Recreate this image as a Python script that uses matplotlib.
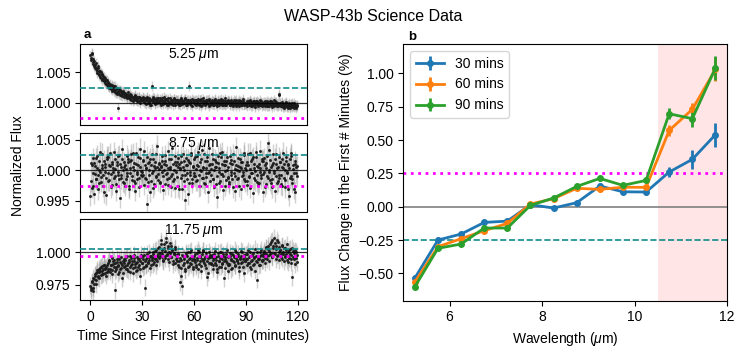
import numpy as np
import matplotlib
matplotlib.use("Agg")
import matplotlib.pyplot as plt

plt.rcParams['font.family'] = ['Liberation Sans', 'DejaVu Sans']
plt.rcParams['mathtext.fontset'] = 'custom'
plt.rcParams['mathtext.it'] = 'Liberation Sans:italic'
plt.rcParams['mathtext.rm'] = 'Liberation Sans'
plt.rcParams['font.size'] = 10

# light curves, (flux - 1) in units of 1e-4
# "even" frames at t = 0, 0.5, 1.0 ... min, "odd" frames 0.25 min later
flux_525_even = [
    78, 71, 82, 64, 69, 58, 66, 55, 49, 57, 46, 52, 41, 47, 38, 44, 35, 40, 31, 37,
    28, 34, 25, 31, 22, 29, 26, 19, 27, 21, 16, 24, -8, 22, 13, 20, 17, 11, 19, 14,
    16, 10, 13, 8, 17, 11, 6, 12, 9, 3, 10, 7, 13, 4, 8, 2, 9, 5, -1, 7,
    5, 9, 1, 7, -2, 4, 8, 0, 6, 3, -3, 28, 10, 2, 6, -1, 4, 8, 1, 3,
    2, 7, -3, 5, 1, 9, -1, 4, 6, -4, 3, 0, 8, 2, -2, 5, 1, 7, -3, 4,
    3, -2, 5, 1, -4, 6, 2, -1, 4, 0, 7, -3, 2, 5, 28, -2, 3, 1, -5, 4,
    1, 5, -3, 3, 0, 6, -2, 4, -5, 2, 7, -1, 3, -4, 1, 5, -2, 2, 6, -3,
    0, 4, -3, 2, 6, -2, 1, -5, 3, -1, 5, 0, -4, 2, 4, -2, 7, -3, 1, 3,
    -1, 3, -4, 2, 0, -6, 4, -2, 1, 5, -3, 0, -5, 3, -1, 2, -4, 6, -2, 0,
    -2, 2, -5, 1, -1, 4, -6, 0, -3, 3, -1, -7, 2, -2, 1, -4, 4, -3, 0, -5,
    -3, 1, -6, 0, -2, 3, -5, -1, 2, -4, -7, 1, -2, 4, -3, 0, -6, -1, 15, -4,
    -2, -6, 1, -4, -8, -1, -5, 0, -7, -3, -4, -9, -2, -6, 0, -5, -8, -3, -6, -4,
]
flux_525_odd = [
    74, 80, 67, 72, 60, 63, 57, 52, 60, 48, 53, 43, 50, 45, 39, 42, 36, 33, 38, 30,
    33, 26, 30, 24, 27, 20, 23, 28, 18, 22, 15, 20, 17, 14, 21, 12, 16, 18, 10, 15,
    12, 15, 9, 13, 7, 11, 14, 5, 10, 8, 4, 11, 6, 9, 2, 7, 10, 3, 6, 4,
    8, 2, 6, -1, 5, 9, 3, 0, 7, -3, 4, 6, 1, 8, -2, 3, 5, 0, 7, 2,
    -1, 5, 3, 8, -2, 2, 6, 0, 4, -3, 7, 1, -1, 5, 3, -4, 6, 2, 0, 4,
    5, 0, -3, 4, 2, 7, -2, 3, -1, 6, 1, -4, 4, 0, 2, 5, -3, 6, 1, -1,
    3, -2, 5, -1, 2, -4, 4, 0, 6, -3, 1, 3, -2, 5, 0, -1, 4, -5, 2, 1,
    -2, 3, 1, -4, 5, 0, -1, 4, -3, 2, -2, 6, 1, -3, 0, 3, -4, 2, -1, 5,
    2, -3, 0, 4, -4, 1, -2, 3, -5, 0, 2, -2, 4, -1, -3, 1, 3, -4, 0, -2,
    -3, 0, 2, -4, 3, -2, 1, -5, 2, -1, -4, 1, -2, 3, -6, 0, -3, 2, -1, -4,
    -1, -4, 2, -3, -6, 1, -2, -5, 0, 3, -3, -1, -6, 2, -4, 1, -2, -5, 12, 0,
    -5, -1, -3, -7, -2, -4, 1, -6, -3, -8, -1, -5, -2, -7, -4, 0, -6, -3, -9, -5,
]
flux_875_even = [
    -42, -18, 8, -25, 12, -6, 20, -14, 3, -31, 15, -2, -19, 9, 27, -8, -36, 5, -12, 18,
    -4, 22, -16, 7, -28, 11, -3, 30, -10, 2, -22, 14, -7, 25, -45, 6, -13, 19, 0, -20,
    9, -15, 24, -5, 13, -26, 4, 17, -9, 28, -18, 1, -33, 10, -2, 21, -12, 6, 35, -7,
    -3, 16, -24, 8, -14, 3, -55, 12, -8, 19, -17, 26, -1, -29, 7, 14, -11, 40, -6, 2,
    11, -19, 5, 23, -9, 0, 16, -23, 8, -4, 31, -13, 2, -27, 18, -6, 10, -15, 24, -2,
    -11, 6, 20, -30, 3, 14, -8, 27, -18, 1, -48, 9, -4, 17, -21, 12, -7, 29, -14, 5,
    18, -10, 2, 24, -16, 7, -26, 13, -1, 33, -12, 4, -20, 15, -5, 22, -36, 9, -3, 11,
    -8, 26, -14, 0, 17, -22, 6, -44, 12, 3, -17, 21, -6, 30, -10, 8, -25, 15, 1, -13,
    5, -19, 23, -3, 10, -28, 16, 2, -9, 38, -15, 7, -1, 19, -31, 4, 13, -7, 25, -18,
    0, 14, -24, 9, -11, 28, -5, 18, -37, 3, 11, -16, 22, -8, 6, -20, 32, -2, -13, 15,
    -6, 20, -27, 4, 12, -10, 45, -3, 17, -21, 8, -14, 26, -1, -34, 10, 3, -18, 21, -7,
    13, -23, 5, 29, -12, 1, -28, 16, -5, 9, -42, 19, -9, 24, -15, 2, -30, 11, -4, 7,
]
flux_875_odd = [
    12, -29, -5, 20, -38, 7, -15, 24, -8, 1, -20, 30, -11, 4, -26, 16, -3, 10, -40, 22,
    -17, 9, 28, -6, 14, -24, 3, -13, 19, -33, 8, -2, 23, -15, 11, -7, 34, -19, 5, 13,
    -25, 2, -9, 18, -30, 15, -4, 26, -16, 6, 12, -21, 29, -6, -14, 8, -27, 20, -1, -10,
    17, -8, 31, -12, 4, 22, -19, 0, 14, -35, 9, -5, 19, -23, 3, 27, -9, 6, -16, 12,
    -20, 7, -2, 15, -32, 10, 25, -6, -14, 4, -24, 18, 6, -10, 37, -17, 1, 13, -29, 8,
    14, -26, 10, 2, -12, 23, -31, 5, 16, -7, 20, -15, 8, -39, 13, -3, 25, -20, 7, -9,
    -5, 21, -17, 9, 30, -8, 0, -25, 18, -13, 6, 27, -22, 3, -11, 15, -4, 36, -18, 2,
    10, -14, 19, -27, 5, 13, -9, 24, -3, -20, 28, -6, 11, -32, 16, -1, 8, -16, 22, -11,
    -22, 12, -7, 17, -15, 26, -4, -33, 9, 1, -12, 20, -26, 6, 14, -9, -2, 29, -14, 3,
    8, -17, 27, -10, 2, -29, 15, -5, 21, -13, -1, 30, -19, 7, -24, 11, 4, -8, 18, -35,
    16, -3, 9, -22, 24, -13, 1, 33, -16, 6, -28, 12, -4, 19, -9, 27, -21, 5, -12, 14,
    -7, 18, -25, 3, 11, -16, 22, -2, -31, 10, 4, -13, 28, -20, 8, -5, 15, -36, 6, -10,
]
flux_1175_even = [
    -255, -290, -230, -270, -205, -180, -245, -160, -135, -190, -150, -120, -175, -105, -140, -165, -95, -130, -115, -150,
    -80, -140, -60, -125, -95, -170, -70, -115, -290, -85, -130, -50, -105, -150, -75, -120, -40, -100, -160, -85,
    -60, -125, -95, -30, -140, -75, -110, -45, -90, -160, -65, -20, -115, -80, -135, -50, -95, -70, -180, -40,
    -85, -30, -110, -270, -55, -95, -10, -75, -40, -120, -25, -60, 5, -90, -35, -50, 20, -70, -15, -45,
    40, -30, 90, -10, -60, 60, 10, -45, 110, -20, 30, -75, -5, 50, -35, 15, -90, -15, 25, -55,
    -40, -95, -10, -70, -230, -120, -260, -30, -85, -50, -130, -20, -65, 0, -105, -45, -80, 15, -60, -110,
    -25, -75, -110, -5, -60, 20, -90, -40, -140, -15, -70, 10, -55, -100, -30, -190, -45, 5, -85, -35,
    -80, -20, -125, -45, 10, -95, -60, -150, -30, -70, 0, -110, -50, -85, -15, -200, -40, -65, 15, -100,
    -35, -90, -5, -60, -120, -20, -75, 20, -105, -45, -65, -10, -140, -55, -25, -85, 5, -115, -40, -70,
    -15, -100, -50, 15, -80, -30, -125, -60, -5, -90, -40, 25, -70, -210, -35, -55, 0, -95, -20, -65,
    -30, 10, -80, -15, 40, -55, 25, -20, 60, -5, 90, -40, 30, 110, -10, 50, -25, 75, 5, -60,
    20, -35, 55, -10, -70, 35, -25, 15, -60, 0, -45, 25, -80, -20, -190, 10, -55, -30, 5, -75,
]
flux_1175_odd = [
    -275, -220, -300, -195, -240, -170, -210, -150, -185, -125, -200, -140, -110, -170, -130, -95, -155, -120, -180, -100,
    -125, -70, -150, -100, -45, -135, -90, -60, -145, -110, -75, -165, -95, -55, -130, -85, -200, -70, -115, -50,
    -105, -40, -130, -85, -60, -150, -25, -100, -70, -120, -45, -90, -140, -35, -75, -110, -55, -125, -20, -85,
    -50, -120, -20, -65, -105, -40, -85, 0, -60, -30, -95, -45, -15, -75, 10, -55, -100, -25, 35, -40,
    -5, 65, -40, 15, -70, 30, -25, 80, -10, 45, -50, 0, 70, -35, 20, -65, -5, 40, -80, -20,
    -70, -15, -110, -45, -180, -60, -20, -95, -40, -140, -5, -75, -30, -115, -55, 5, -90, -35, -125, -50,
    -60, -10, -95, -45, -130, 0, -70, -25, -105, -50, 15, -80, -35, -120, -5, -65, -155, -40, -20, -90,
    -35, -100, -60, -15, -85, -40, -130, -5, -70, -110, -45, 5, -90, -25, -65, -120, -50, -10, -80, -140,
    -95, -25, -55, -130, -10, -70, -40, -100, 0, -60, -85, -30, -115, -45, 10, -75, -50, -160, -20, -65,
    -55, -10, -85, -35, -110, 0, -65, -20, -95, -45, -140, -25, 5, -75, -50, -100, -30, 20, -60, -15,
    -60, -5, -45, 30, -25, 50, -70, 10, -15, 80, -35, 45, -5, 70, -55, 25, 95, -20, 40, 15,
    -15, 45, -50, 5, 30, -40, -10, 60, -30, -75, 20, -15, -55, 35, -35, -5, -90, 15, -45, -20,
]
err_lc = [8, 17, 65]  # per panel, same units
lc_labels = [r'5.25 $\mu$m', r'8.75 $\mu$m', r'11.75 $\mu$m']

# panel b
wavelength = [5.25, 5.75, 6.25, 6.75, 7.25, 7.75, 8.25, 8.75, 9.25, 9.75, 10.25, 10.75, 11.25, 11.75]
change_30 = [-0.535, -0.25, -0.205, -0.118, -0.108, 0.015, -0.01, 0.03, 0.155, 0.112, 0.11, 0.26, 0.355, 0.54]
change_60 = [-0.565, -0.30, -0.24, -0.18, -0.125, 0.02, 0.06, 0.138, 0.13, 0.146, 0.145, 0.572, 0.73, 1.03]
change_90 = [-0.60, -0.312, -0.28, -0.16, -0.16, 0.01, 0.065, 0.152, 0.212, 0.16, 0.197, 0.697, 0.66, 1.04]
err_30 = [0.02, 0.015, 0.015, 0.015, 0.015, 0.015, 0.015, 0.015, 0.02, 0.02, 0.02, 0.04, 0.07, 0.09]
err_60 = [0.02, 0.015, 0.015, 0.015, 0.015, 0.015, 0.015, 0.015, 0.02, 0.02, 0.02, 0.04, 0.05, 0.09]
err_90 = [0.02, 0.015, 0.015, 0.015, 0.015, 0.015, 0.015, 0.015, 0.02, 0.02, 0.02, 0.04, 0.06, 0.09]

fig = plt.figure(figsize=(7.47, 3.61), dpi=100)

left_pos = [[0.1071, 0.6537, 0.3039, 0.2244],
            [0.1071, 0.4119, 0.3039, 0.2205],
            [0.1071, 0.1690, 0.3039, 0.2235]]
ylims = [(0.99632, 1.00968), (0.99314, 1.00614), (0.9635, 1.0252)]
yticks = [[1.000, 1.005], [0.995, 1.000, 1.005], [0.975, 1.000]]

t_even = np.arange(len(flux_525_even)) * 0.5
t_odd = t_even + 0.25
curves = [(flux_525_even, flux_525_odd), (flux_875_even, flux_875_odd), (flux_1175_even, flux_1175_odd)]

for i, (ev, od) in enumerate(curves):
    ax = fig.add_axes(left_pos[i])
    for tt, series in [(t_even, ev), (t_odd, od)]:
        f = 1 + np.array(series) * 1e-4
        ax.errorbar(tt, f, yerr=err_lc[i] * 1e-4, fmt='.', color=(0.1, 0.1, 0.1, 0.85), ms=2.4,
                    ecolor=(0.55, 0.55, 0.55, 0.4), elinewidth=1, zorder=2)
    ax.axhline(1.0, color='k', lw=0.9, alpha=0.8, zorder=3)
    ax.axhline(1.0025, color='#108a8a', ls='--', lw=1.2, zorder=4)
    ax.axhline(0.9975, color='magenta', ls=':', lw=2, zorder=4)
    ax.set_xlim(-6, 125.5)
    ax.set_ylim(*ylims[i])
    ax.set_yticks(yticks[i])
    ax.set_yticklabels([f'{v:.3f}' for v in yticks[i]])
    ax.text(0.5, 0.97, lc_labels[i], transform=ax.transAxes, ha='center', va='top', fontsize=10)
    if i < 2:
        ax.tick_params(bottom=False, labelbottom=False)
    else:
        ax.set_xticks([0, 30, 60, 90, 120])
        ax.set_xlabel('Time Since First Integration (minutes)')

fig.text(0.024, 0.54, 'Normalized Flux', rotation=90, ha='center', va='center', fontsize=10)
fig.text(0.1124, 0.8934, 'a', fontweight='bold', fontsize=9.5, va='baseline')

axb = fig.add_axes([0.5399, 0.1670, 0.4333, 0.7111])
axb.axvspan(10.5, 12, color='red', alpha=0.1, lw=0, zorder=0)
axb.axhline(0, color='gray', lw=1.2, zorder=1)
axb.axhline(0.25, color='magenta', ls=':', lw=2, zorder=1)
axb.axhline(-0.25, color='#108a8a', ls='--', lw=1.2, zorder=1)
for vals, errs, c, lab in [(change_30, err_30, '#1f77b4', '30 mins'),
                           (change_60, err_60, '#ff7f0e', '60 mins'),
                           (change_90, err_90, '#2ca02c', '90 mins')]:
    axb.errorbar(wavelength, vals, yerr=errs, color=c, marker='o', ms=4, lw=2,
                 elinewidth=2, label=lab, zorder=3)
axb.set_xlim(5, 12)
axb.set_ylim(-0.705, 1.22)
axb.set_xticks([6, 8, 10, 12])
axb.set_yticks([-0.5, -0.25, 0, 0.25, 0.5, 0.75, 1.0])
axb.set_yticklabels(['\u22120.50', '\u22120.25', '0.00', '0.25', '0.50', '0.75', '1.00'])
axb.set_xlabel(r'Wavelength ($\mu$m)')
axb.set_ylabel('Flux Change in the First # Minutes (%)')
axb.legend(loc='upper left', fontsize=10)
fig.text(0.5458, 0.889, 'b', fontweight='bold', fontsize=9.5, va='baseline')

fig.text(0.5, 0.953, 'WASP-43b Science Data', ha='center', va='center', fontsize=11.5)

fig.savefig('out.png', dpi=100)
